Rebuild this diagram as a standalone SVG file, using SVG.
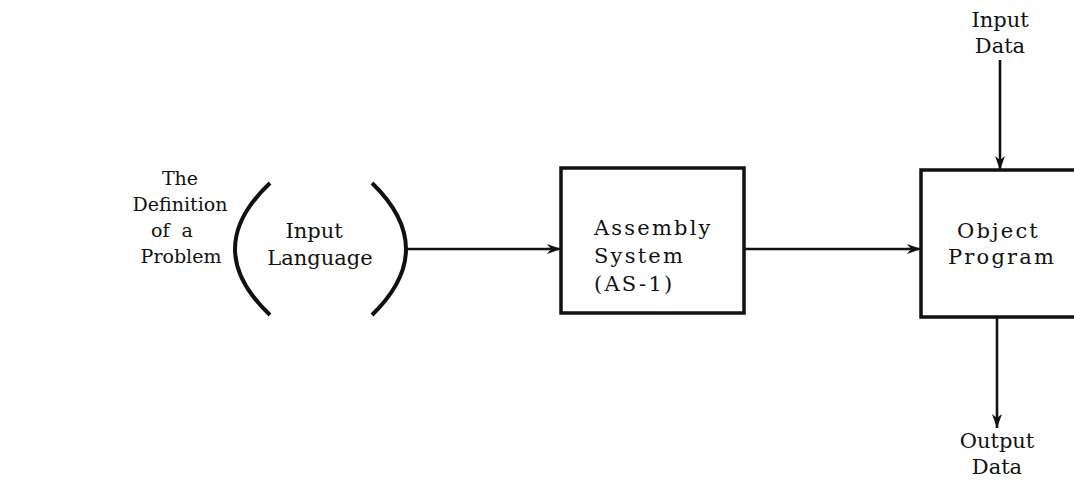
<svg xmlns="http://www.w3.org/2000/svg" width="1074" height="498" viewBox="0 0 1074 498">
<defs>
<style>
.t{font-family:"DejaVu Serif","Liberation Serif",serif;font-size:21px;fill:#111}
.s{font-family:"DejaVu Serif","Liberation Serif",serif;font-size:19px;fill:#111}
.b{font-family:"DejaVu Serif","Liberation Serif",serif;font-size:21px;letter-spacing:2.2px;fill:#111}
.box{fill:none;stroke:#111;stroke-width:3.5}
.ln{fill:none;stroke:#111;stroke-width:2.6}
.br{fill:none;stroke:#111;stroke-width:4}
</style>
<marker id="ah" viewBox="0 0 14 10" refX="14" refY="5" markerWidth="14" markerHeight="10" markerUnits="userSpaceOnUse" orient="auto">
<path d="M0,0 L14,5 L0,10 L4,5 Z" fill="#111"/>
</marker>
</defs>
<rect width="1074" height="498" fill="#fff"/>
<g id="problem">
<text class="s" text-anchor="middle"><tspan x="180" y="185">The</tspan><tspan x="180" y="211">Definition</tspan><tspan x="172" y="237" word-spacing="6">of a</tspan><tspan x="181" y="263">Problem</tspan></text>
</g>
<g id="input-language">
<path class="br" d="M270,183 Q200,249 270,315"/>
<path class="br" d="M372,183 Q440,249 372,315"/>
<text class="t" text-anchor="middle"><tspan x="314" y="238">Input</tspan><tspan x="320" y="265">Language</tspan></text>
</g>
<g id="assembly-system">
<rect class="box" x="561" y="168" width="183" height="145"/>
<text class="b"><tspan x="594" y="235">Assembly</tspan><tspan x="594" y="263">System</tspan><tspan x="594" y="291">(AS-1)</tspan></text>
</g>
<g id="object-program">
<rect class="box" x="921" y="170" width="170" height="147"/>
<text class="b"><tspan x="957" y="238">Object</tspan><tspan x="948" y="264">Program</tspan></text>
</g>
<g id="input-data">
<text class="t" text-anchor="middle"><tspan x="1000" y="27">Input</tspan><tspan x="1000" y="53">Data</tspan></text>
</g>
<g id="output-data">
<text class="t" text-anchor="middle"><tspan x="997" y="448">Output</tspan><tspan x="997" y="474">Data</tspan></text>
</g>
<g id="connectors">
<line class="ln" x1="405" y1="249" x2="561" y2="249" marker-end="url(#ah)"/>
<line class="ln" x1="745" y1="249" x2="921" y2="249" marker-end="url(#ah)"/>
<line class="ln" x1="1000" y1="60" x2="1000" y2="170" marker-end="url(#ah)"/>
<line class="ln" x1="997" y1="318" x2="997" y2="428" marker-end="url(#ah)"/>
</g>
</svg>
